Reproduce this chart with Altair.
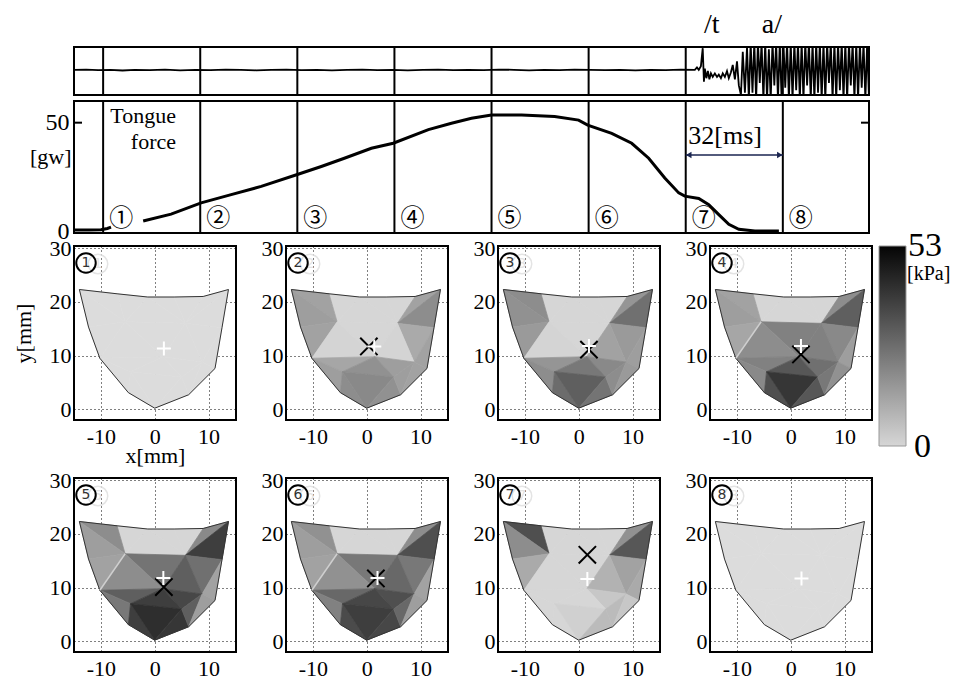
import altair as alt
import pandas as pd

# ---------------- shared time axis (ms) ----------------
LINE_T = [9.6, 41.6, 73.6, 105.6, 137.6, 169.6, 201.6, 233.6]
CIRCLED = ["①", "②", "③", "④", "⑤", "⑥", "⑦", "⑧"]
DIGITS = ["1", "2", "3", "4", "5", "6", "7", "8"]
T_DOMAIN = [0, 262]

# ---------------- audio waveform ----------------
AUDIO_T = [0, 4, 8, 12, 16, 20, 25, 30, 35, 40, 45, 50, 55, 60, 65, 70, 75, 80, 85, 90,
           95, 100, 105, 110, 115, 120, 125, 130, 135, 140, 145, 150, 155, 160, 165, 170,
           175, 180, 185, 190, 195, 200, 204.6,
           205.3, 205.9, 206.6, 207.2, 207.6, 207.9, 208.4, 208.9, 209.4, 209.9, 210.5,
           211.2, 211.9, 212.5, 213.2, 213.8, 214.5, 215.2, 215.8, 216.5, 217.1, 217.8,
           218.5, 219.1, 219.8, 220.4, 221.1, 221.8,
           222.4, 223.0, 223.6, 224.2, 224.8, 225.4, 226.0, 226.6, 227.2, 227.8, 228.4,
           229.0, 229.6, 230.2, 230.8, 231.4, 232.0, 232.6, 233.2, 233.8, 234.4, 235.0,
           235.6, 236.2, 236.8, 237.4, 238.0, 238.6, 239.2, 239.8, 240.4, 241.0, 241.6,
           242.2, 242.8, 243.4, 244.0, 244.6, 245.2, 245.8, 246.4, 247.0, 247.6, 248.2,
           248.8, 249.4, 250.0, 250.6, 251.2, 251.8, 252.4, 253.0, 253.6, 254.2, 254.8,
           255.4, 256.0, 256.6, 257.2, 257.8, 258.4, 259.0, 259.6, 260.2, 260.8, 261.4,
           262.0]
AUDIO_A = [0.05, 0.06, 0.04, 0.05, 0.02, 0.05, 0.04, 0.06, 0.03, 0.05, 0.04, 0.06, 0.05,
           0.03, 0.05, 0.06, 0.04, 0.05, 0.03, 0.05, 0.06, 0.04, 0.05, 0.03, 0.05, 0.06,
           0.04, 0.05, 0.04, 0.06, 0.05, 0.03, 0.05, 0.04, 0.06, 0.05, 0.04, 0.05, 0.03,
           0.05, 0.04, 0.06, 0.05,
           0.15, 0.05, 0.2, 0.95, -0.45, 0.1, -0.3, 0.0, -0.35, -0.1, -0.25, -0.1, -0.25,
           -0.15, -0.3, -0.1, -0.25, 0.0, -0.3, -0.05, 0.25, -0.35, 0.4, -0.6, -1.0, 0.8,
           -0.9, 1.0,
           -1.2, 1.2, -0.9, 1.2, -1.2, 1.2, -0.5, 1.2, -1.2, 1.2,
           -1.2, 0.9, -1.2, 1.2, -0.6, 1.2, -1.2, 1.2, -1.2, 1.2,
           -0.7, 1.2, -1.2, 1.2, -1.2, 1.2, -0.8, 1.2, -1.2, 1.2,
           -1.2, 1.2, -0.6, 1.2, -1.2, 1.2, -1.2, 1.2, -0.9, 1.2,
           -1.2, 1.2, -1.2, 1.2, -0.5, 1.2, -1.2, 1.2, -1.2, 1.2,
           -0.8, 1.2, -1.2, 1.2, -1.2, 1.2, -0.6, 1.2, -1.2, 1.2,
           -1.2, 1.2, -0.7, 1.2, -1.2, 1.2, -1.2]
PHONEMES = ["/t", "a/"]
PHONEME_T = [210.2, 230.0]

# ---------------- tongue force [gw] ----------------
FORCE_T_A = [0, 5, 8.9, 11, 12.2]
FORCE_F_A = [0.5, 0.5, 0.6, 1.2, 1.8]
FORCE_T_B = [22.8, 32, 41.9, 51.8, 61.7, 73.6, 81.5, 89.1, 98, 105.2, 116.8, 124.4, 131,
             137.6, 147.5, 158.4, 166.3, 169.3, 177.2, 183.8, 189.4, 194.7, 199.3, 201.3,
             205.9, 209.2, 212.5, 215.8, 219.1, 224.4, 232.3]
FORCE_F_B = [4.6, 7.8, 13, 16.8, 20.6, 26.1, 29.8, 33.6, 38.2, 40.5, 46.8, 49.7, 52,
             53.5, 53.5, 52.8, 51.2, 48.9, 45.1, 40.5, 33.6, 24.5, 17.6, 16.1,
             15, 12.2, 7.6, 3.1, 0.8, 0, 0]
F_DOMAIN = [-0.9, 60]
F_TICKS = [0, 50]
ARROW_F = 35.1
MS_LABEL = "32[ms]"
MS_LABEL_T = 214.6
MS_LABEL_F = 43.9

# ---------------- palate pressure maps ----------------
NODE_X = [-14.0, -12.3, -10.2, -4.9, 0.0, 6.3, 11.2, 12.5, 13.7, 9.0, 3.6, -1.3, -7.0,
          -5.5, 5.7, 1.5, -4.5, 5.0, 8.8]
NODE_Y = [22.3, 15.3, 9.5, 3.1, 0.2, 2.7, 7.6, 15.2, 22.3, 21.0, 20.9, 20.9, 21.5,
          16.3, 16.0, 9.8, 7.0, 6.0, 8.8]
OUTLINE = [0, 1, 2, 3, 4, 5, 6, 7, 8, 9, 10, 11, 12, 0]
TRIS = [(12, 11, 13), (11, 14, 13), (11, 10, 14), (10, 9, 14),
        (0, 12, 13), (0, 13, 1), (1, 13, 2),
        (9, 8, 14), (8, 7, 14), (14, 7, 18), (7, 6, 18),
        (13, 14, 15), (13, 15, 2), (2, 15, 16), (14, 18, 15), (15, 18, 17), (15, 17, 16),
        (2, 16, 3), (3, 16, 4), (16, 17, 4), (4, 17, 5), (17, 5, 18), (5, 6, 18)]
P1 = [0] * 23
P2 = [1.5, 1.5, 1.5, 1.5, 14, 15, 14, 14, 19, 12, 14, 1.5, 2, 13, 2, 15, 18, 15, 19, 20, 18, 15, 14]
P3 = [1.5, 1.5, 1.5, 1.5, 19, 18, 16, 17, 26, 16, 15, 1.5, 2, 17, 14, 20, 24, 19, 27, 30, 25, 19, 16]
P4 = [1.5, 1.5, 1.5, 1.5, 14, 15, 13, 19, 30, 20, 15, 22, 19, 22, 22, 26, 32, 20, 34, 40, 32, 24, 18]
P5 = [1.5, 1.5, 1.5, 1.5, 19, 15, 14, 20, 38, 26, 14, 25, 19, 30, 30, 36, 38, 24, 38, 42, 40, 30, 15]
P6 = [1.5, 1.5, 1.5, 1.5, 18, 15, 14, 19, 34, 24, 14, 24, 18, 28, 28, 34, 36, 22, 35, 38, 36, 28, 15]
P7 = [1.5, 1.5, 1.5, 1.5, 34, 19, 12, 18, 32, 14, 12, 1.5, 1.5, 1.5, 10, 5, 1.5, 1.5, 1.5, 3, 8, 8, 5]
P8 = [0] * 23
PANEL_VALUES = [P1, P2, P3, P4, P5, P6, P7, P8]
STREAK = [False, False, False, True, True, True, False, False]
STREAK_NODES = [13, 2]
PLUS_X = [1.7, 1.4, 1.9, 1.9, 1.6, 2.0, 1.6, 2.0]
PLUS_Y = [11.3, 11.7, 11.8, 11.8, 11.8, 11.8, 11.6, 11.7]
CROSS_X = [None, 0.4, 1.9, 1.9, 1.7, 1.7, 1.6, None]
CROSS_Y = [None, 11.7, 11.1, 10.2, 10.1, 11.7, 16.1, None]
P_MAX = 53
CBAR_TOP_LABEL = "53"
CBAR_BOTTOM_LABEL = "0"
CBAR_UNIT = "[kPa]"

FONT = "Liberation Serif"
PLUS_PATH = "M-1,0L1,0M0,-1L0,1"
CROSS_PATH = "M-1,-1L1,1M-1,1L1,-1"
PW, PH = 162, 174

# ---------------- scales ----------------
tsc = alt.Scale(domain=T_DOMAIN, nice=False, zero=False)
fsc = alt.Scale(domain=F_DOMAIN, nice=False, zero=False)
asc = alt.Scale(domain=[-1, 1], nice=False, zero=False)
xsc = alt.Scale(domain=[-15, 15.1], nice=False, zero=False)
ysc = alt.Scale(domain=[-2, 30.4], nice=False, zero=False)
csc = alt.Scale(domain=[0, P_MAX], range=["#dcdcdc", "#000000"], interpolate="rgb")

faxis = alt.Axis(values=F_TICKS, labelExpr="'' + datum.value", grid=False, labelFontSize=24,
                 title="[gw]", titleAngle=0, titleAlign="right", titleBaseline="middle",
                 titleX=-3, titleY=55, labelPadding=5)


def FX(f):
    return alt.X(f, scale=tsc, axis=None)


def FY(f):
    return alt.Y(f, scale=fsc, axis=faxis)


one = pd.DataFrame({"s": ["."]})


def spacer():
    # invisible anchor so that every row shares the same left extent
    return alt.Chart(one).mark_text(color="white", align="left", fontSize=8).encode(
        x=alt.value(-65), y=alt.value(20), text="s:N")


lines_df = pd.DataFrame({"t": LINE_T, "lab": CIRCLED})

# ---------------- audio strip ----------------
audio_df = pd.DataFrame({"t": AUDIO_T, "a": AUDIO_A})
phon_df = pd.DataFrame({"t": PHONEME_T, "s": PHONEMES})
audio = alt.layer(
    alt.Chart(lines_df).mark_rule(color="black", strokeWidth=2).encode(x=FX("t:Q")),
    alt.Chart(audio_df).mark_line(color="black", strokeWidth=1.8, clip=True).encode(
        x=FX("t:Q"), y=alt.Y("a:Q", scale=asc, axis=None)),
    alt.Chart(phon_df).mark_text(fontSize=28, baseline="middle", color="black").encode(
        x=FX("t:Q"), y=alt.value(-22), text="s:N"),
    spacer(),
).properties(width=795, height=48)

# ---------------- force panel ----------------
force_df = pd.concat([
    pd.DataFrame({"t": FORCE_T_A, "f": FORCE_F_A, "seg": "a"}),
    pd.DataFrame({"t": FORCE_T_B, "f": FORCE_F_B, "seg": "b"}),
])
arrow_df = pd.DataFrame({"t1": [LINE_T[6]], "t2": [LINE_T[7]], "f": [ARROW_F]})
heads_df = pd.DataFrame({"t": [LINE_T[6] + 1.0, LINE_T[7] - 1.0], "f": [ARROW_F, ARROW_F],
                         "shape": ["triangle-left", "triangle-right"]})
ms_df = pd.DataFrame({"t": [MS_LABEL_T], "f": [MS_LABEL_F], "s": [MS_LABEL]})
tick_df = pd.DataFrame({"f": [50]})
tongue_df = pd.DataFrame({"s": ["Tongue\nforce"]})

force = alt.layer(
    alt.Chart(lines_df).mark_rule(color="black", strokeWidth=2).encode(x=FX("t:Q")),
    alt.Chart(force_df).mark_line(color="black", strokeWidth=3).encode(
        x=FX("t:Q"), y=FY("f:Q"), detail="seg:N"),
    alt.Chart(tick_df).mark_rule(color="black", strokeWidth=2).encode(
        y=FY("f:Q"), x=alt.value(0), x2=alt.value(8)),
    alt.Chart(tick_df).mark_rule(color="black", strokeWidth=2).encode(
        y=FY("f:Q"), x=alt.value(787), x2=alt.value(795)),
    alt.Chart(lines_df).mark_text(font="Noto Sans CJK JP", fontSize=24, dx=18, align="center",
                                  baseline="middle", color="black").encode(
        x=FX("t:Q"), y=alt.value(118), text="lab:N"),
    alt.Chart(tongue_df).mark_text(fontSize=22, align="right", baseline="top", lineBreak="\n",
                                   lineHeight=26, color="black").encode(
        x=alt.value(102), y=alt.value(5), text="s:N"),
    alt.Chart(arrow_df).mark_rule(color="#1a2550", strokeWidth=1.5).encode(
        x=FX("t1:Q"), x2="t2:Q", y=FY("f:Q")),
    alt.Chart(heads_df).mark_point(filled=True, color="#1a2550", size=40, opacity=1).encode(
        x=FX("t:Q"), y=FY("f:Q"), shape=alt.Shape("shape:N", scale=None)),
    alt.Chart(ms_df).mark_text(fontSize=26, baseline="middle", color="black").encode(
        x=FX("t:Q"), y=FY("f:Q"), text="s:N"),
    spacer(),
).properties(width=795, height=132)


# ---------------- pressure panels ----------------
def panel(p):
    rows = []
    for ti, tri in enumerate(TRIS):
        for k, n in enumerate(list(tri) + [tri[0]]):
            rows.append({"tri": ti, "k": k, "x": NODE_X[n], "y": NODE_Y[n],
                         "v": PANEL_VALUES[p][ti]})
    tri_df = pd.DataFrame(rows)
    out_df = pd.DataFrame({"k": list(range(len(OUTLINE))),
                           "x": [NODE_X[n] for n in OUTLINE],
                           "y": [NODE_Y[n] for n in OUTLINE]})
    xaxis = alt.Axis(values=[-10, 0, 10], labelExpr="'' + datum.value",
                     title="x[mm]" if p == 0 else None, titlePadding=-2, labelPadding=6)
    yaxis = alt.Axis(values=[0, 10, 20, 30], labelExpr="'' + datum.value",
                     title="y[mm]" if p == 0 else None, titlePadding=14, labelPadding=3)
    X = alt.X("x:Q", scale=xsc, axis=xaxis)
    Y = alt.Y("y:Q", scale=ysc, axis=yaxis)
    layers = [
        alt.Chart(tri_df).mark_line(filled=True, strokeWidth=0.7).encode(
            x=X, y=Y, detail="tri:N", order="k:Q",
            color=alt.Color("v:Q", scale=csc, legend=None),
            stroke=alt.Stroke("v:Q", scale=csc, legend=None)),
        alt.Chart(out_df).mark_line(color="#333333", strokeWidth=1).encode(
            x=X, y=Y, order="k:Q"),
    ]
    if STREAK[p]:
        st_df = pd.DataFrame({"k": [0, 1], "x": [NODE_X[n] for n in STREAK_NODES],
                              "y": [NODE_Y[n] for n in STREAK_NODES]})
        layers.append(alt.Chart(st_df).mark_line(color="#cfcfcf", strokeWidth=1.5).encode(
            x=X, y=Y, order="k:Q"))
    if CROSS_X[p] is not None:
        layers.append(alt.Chart(pd.DataFrame({"x": [CROSS_X[p]], "y": [CROSS_Y[p]]})).mark_point(
            shape=CROSS_PATH, filled=False, stroke="black", strokeWidth=2, size=300, opacity=1
        ).encode(x=X, y=Y))
    layers.append(alt.Chart(pd.DataFrame({"x": [PLUS_X[p]], "y": [PLUS_Y[p]]})).mark_point(
        shape=PLUS_PATH, filled=False, stroke="white", strokeWidth=2, size=196, opacity=1
    ).encode(x=X, y=Y))
    lab_df = pd.DataFrame({"lab": [DIGITS[p]]})
    layers += [
        alt.Chart(lab_df).mark_point(shape="circle", size=380, filled=False, stroke="#e4e4e4",
                                     strokeWidth=1.5, opacity=1).encode(
            x=alt.value(24), y=alt.value(18)),
        alt.Chart(lab_df).mark_text(font="DejaVu Sans", fontSize=14, color="#e4e4e4").encode(
            x=alt.value(24), y=alt.value(18), text="lab:N"),
        alt.Chart(lab_df).mark_point(shape="circle", size=380, filled=False, stroke="black",
                                     strokeWidth=2, opacity=1).encode(
            x=alt.value(12), y=alt.value(17)),
        alt.Chart(lab_df).mark_text(font="DejaVu Sans", fontSize=14, color="#333333").encode(
            x=alt.value(12), y=alt.value(17), text="lab:N"),
    ]
    if p in (0, 4):
        layers.append(spacer())
    if p == 3:
        # colour bar (legend of the grey scale) to the right of panel 4
        grad = alt.Gradient(gradient="linear",
                            stops=[alt.GradientStop(color="#050505", offset=0),
                                   alt.GradientStop(color="#d6d6d6", offset=1)],
                            x1=0, x2=0, y1=0, y2=1)
        layers += [
            alt.Chart(one).mark_rect(color=grad, stroke="#999999", strokeWidth=1).encode(
                x=alt.value(PW + 7), x2=alt.value(PW + 34), y=alt.value(0), y2=alt.value(200)),
            alt.Chart(pd.DataFrame({"s": [CBAR_TOP_LABEL]})).mark_text(
                fontSize=34, align="left", baseline="middle", color="black").encode(
                x=alt.value(PW + 36), y=alt.value(0), text="s:N"),
            alt.Chart(pd.DataFrame({"s": [CBAR_UNIT]})).mark_text(
                fontSize=20, align="left", baseline="middle", color="black").encode(
                x=alt.value(PW + 35), y=alt.value(28), text="s:N"),
            alt.Chart(pd.DataFrame({"s": [CBAR_BOTTOM_LABEL]})).mark_text(
                fontSize=34, align="left", baseline="middle", color="black").encode(
                x=alt.value(PW + 42), y=alt.value(201), text="s:N"),
        ]
    return alt.layer(*layers).properties(width=PW, height=PH)


panels = [panel(p) for p in range(8)]

top = alt.vconcat(audio, force, spacing=2)
row1 = alt.hconcat(*panels[:4], spacing=50, bounds="flush")
row2 = alt.hconcat(*panels[4:], spacing=50, bounds="flush")
bottom = alt.vconcat(row1, row2, spacing=1)

chart = alt.vconcat(top, bottom, spacing=-17).properties(
    padding={"left": 0, "top": 2, "right": 0, "bottom": 0}
).configure(font=FONT).configure_view(stroke="black", strokeWidth=2).configure_axis(
    labelFont=FONT, labelFontSize=22, labelColor="black", domain=False, ticks=False,
    grid=True, gridColor="black", gridDash=[1, 3], gridOpacity=1, gridWidth=1,
    titleFont=FONT, titleFontSize=22, titleFontWeight="normal", titleColor="black"
)

chart.save("out.html", embed_options={"renderer": "svg", "actions": False})
